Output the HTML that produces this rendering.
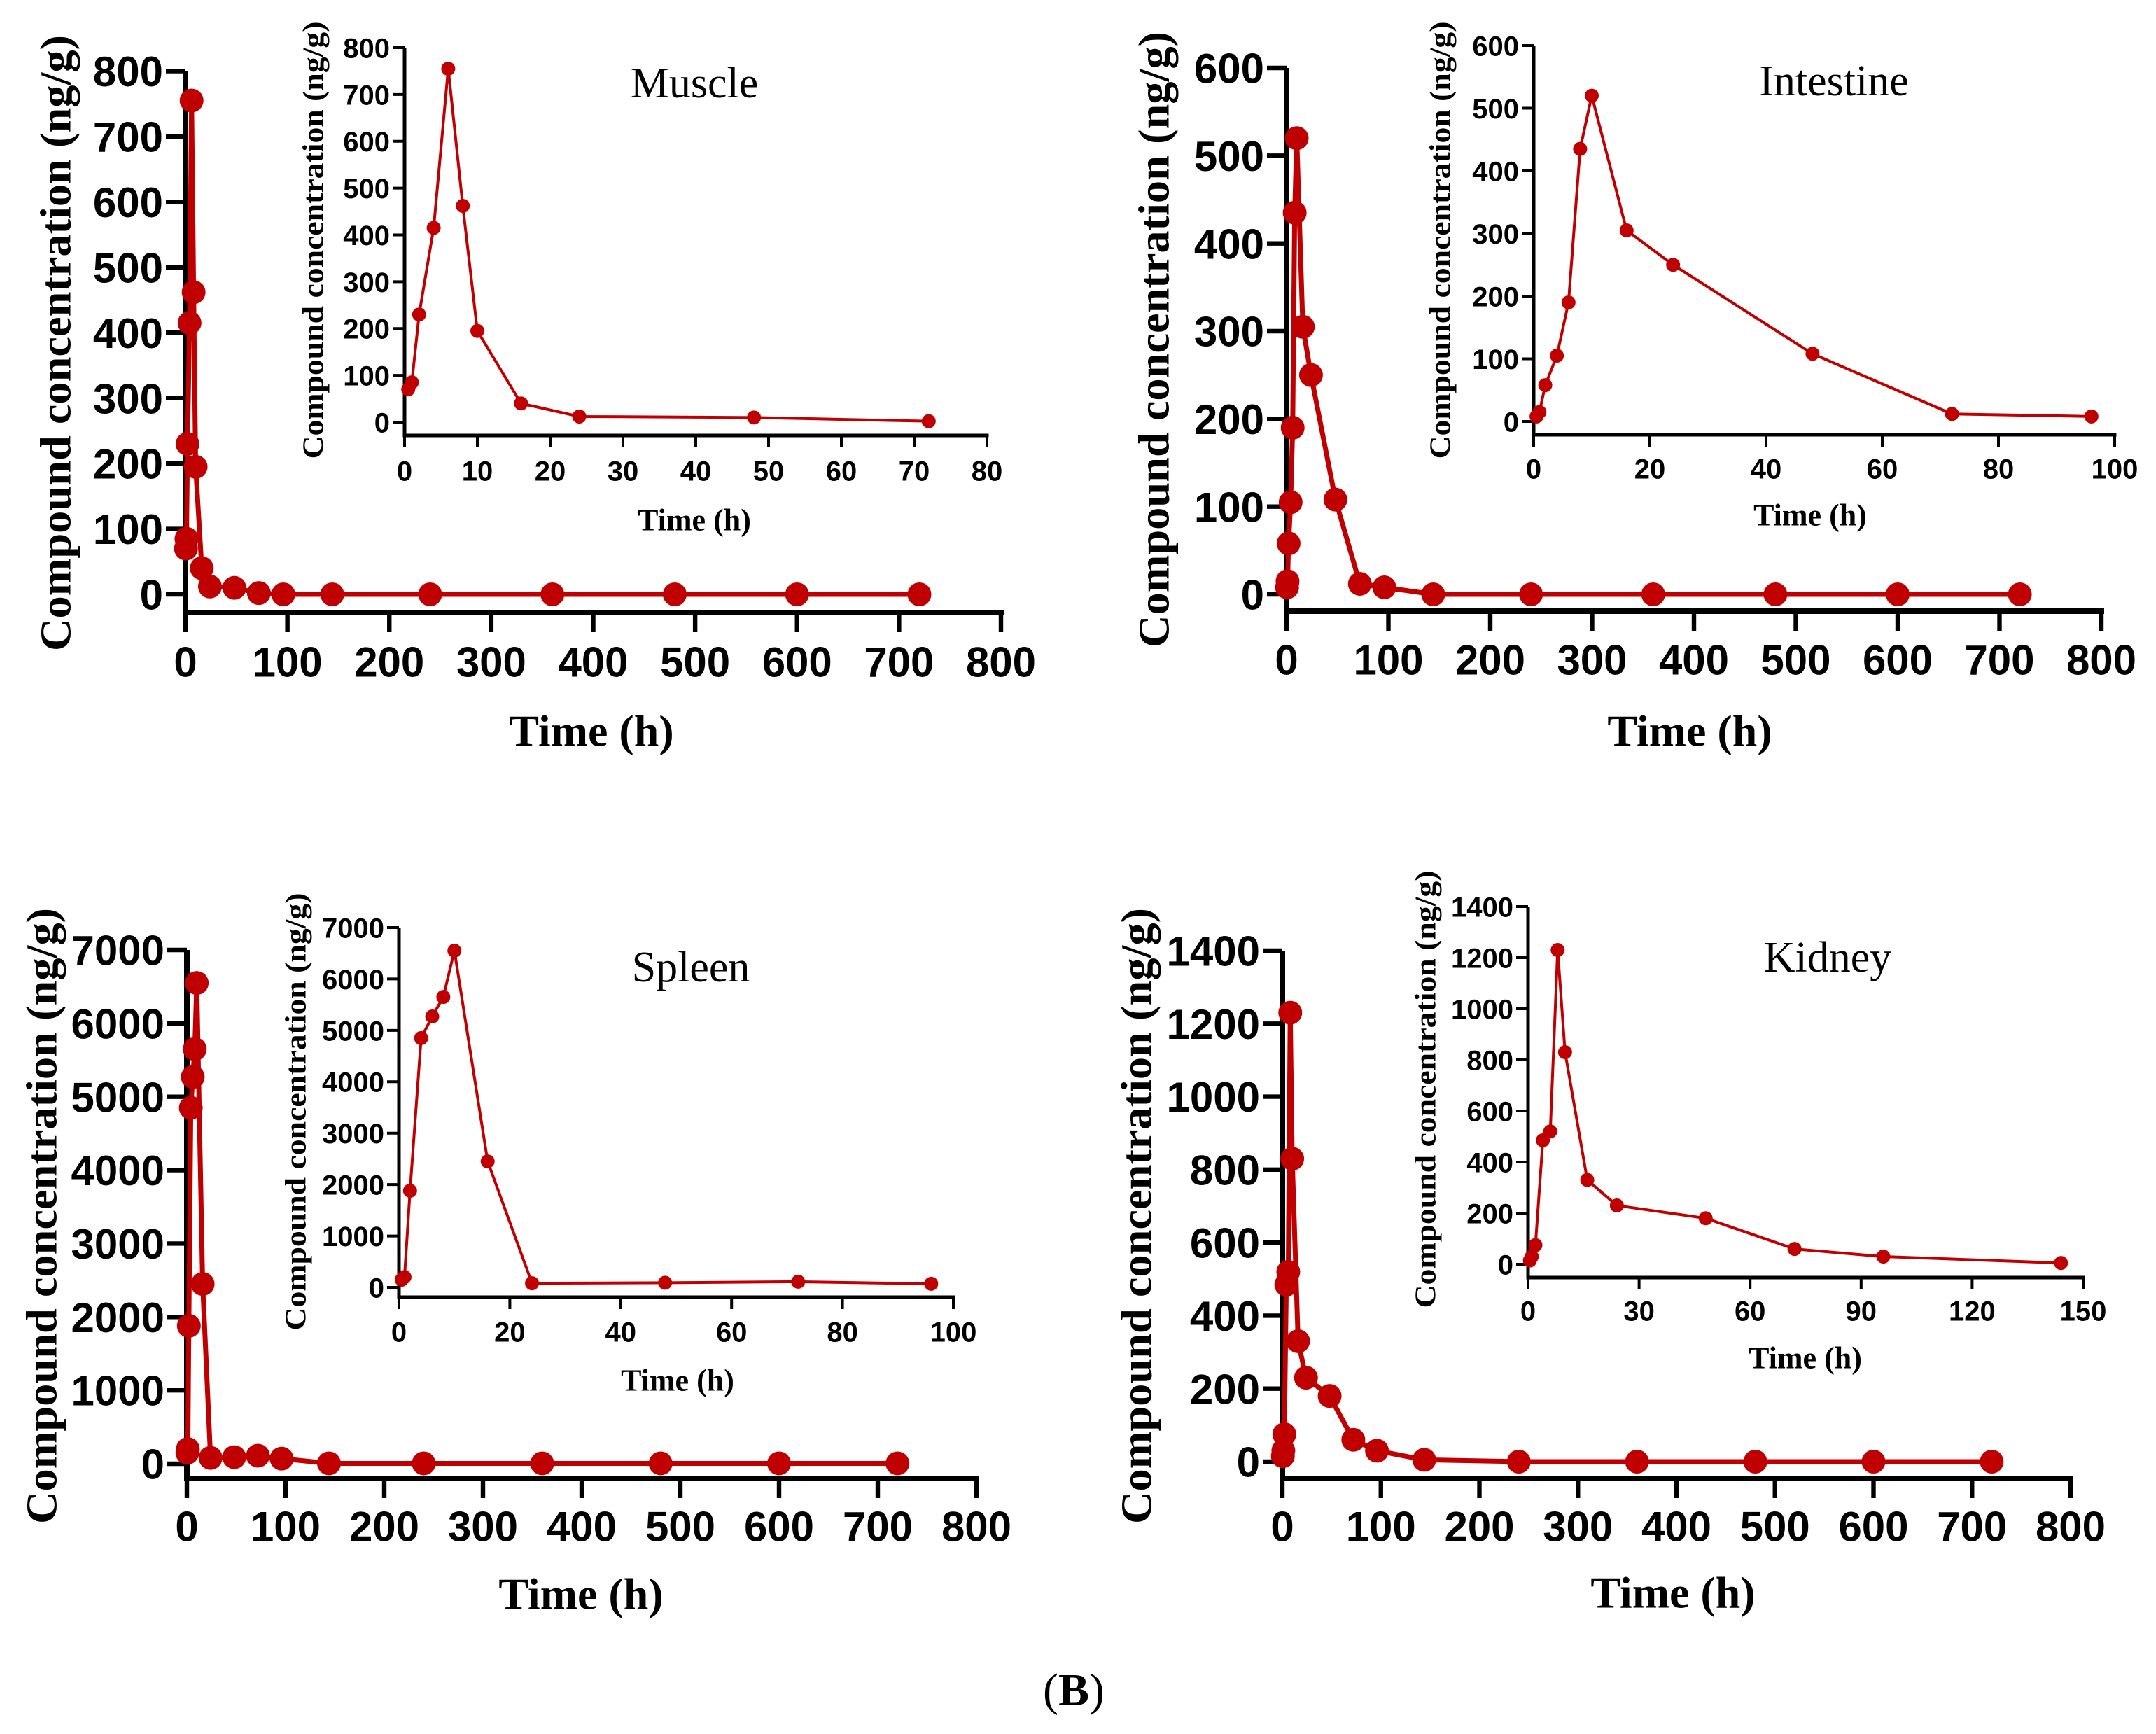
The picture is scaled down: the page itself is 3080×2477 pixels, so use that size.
<!DOCTYPE html>
<html><head><meta charset="utf-8"><style>
html,body{margin:0;padding:0;background:#fff;}
svg{display:block;}
.tk{font-family:"Liberation Sans",sans-serif;font-weight:bold;fill:#000;}
.sf{font-family:"Liberation Serif",serif;font-weight:bold;fill:#000;}
.sr{font-family:"Liberation Serif",serif;fill:#000;}
</style></head><body>
<svg id="fig" width="3080" height="2477" viewBox="0 0 3080 2477" xmlns="http://www.w3.org/2000/svg">
<text class="sf" x="1534" y="2436" font-size="66" text-anchor="middle"><tspan font-weight="normal">(</tspan>B<tspan font-weight="normal">)</tspan></text>
</svg>
<script>
const muscleTimes=[0.5,1,2,4,6,8,10,16,24,48,72];
const muscleValues=[70,85,230,415,755,462,195,40,12,10,2];
const muscleLateTimes=[96,144,240,360,480,600,720];
const muscleLateValues=[0,0,0,0,0,0,0];
const intestineTimes=[0.5,1,2,4,6,8,10,16,24,48,72,96];
const intestineValues=[8,15,58,105,190,435,520,305,250,108,12,8];
const intestineLateTimes=[144,240,360,480,600,720];
const intestineLateValues=[0,0,0,0,0,0];
const spleenTimes=[0.5,1,2,4,6,8,10,16,24,48,72,96];
const spleenValues=[150,200,1880,4850,5270,5650,6550,2450,80,90,110,70];
const spleenLateTimes=[144,240,360,480,600,720];
const spleenLateValues=[5,5,5,5,5,5];
const kidneyTimes=[0.5,1,2,4,6,8,10,16,24,48,72,96,144];
const kidneyValues=[15,30,75,485,520,1230,830,330,230,180,60,30,5];
const kidneyLateTimes=[240,360,480,600,720];
const kidneyLateValues=[0,0,0,0,0];
const mainXTicks=[0,100,200,300,400,500,600,700,800];
const muscleYTicks=[0,100,200,300,400,500,600,700,800];
const muscleInsetXTicks=[0,10,20,30,40,50,60,70,80];
const intestineYTicks=[0,100,200,300,400,500,600];
const intestineInsetXTicks=[0,20,40,60,80,100];
const spleenYTicks=[0,1000,2000,3000,4000,5000,6000,7000];
const spleenInsetXTicks=[0,20,40,60,80,100];
const kidneyYTicks=[0,200,400,600,800,1000,1200,1400];
const kidneyInsetXTicks=[0,30,60,90,120,150];

const NS="http://www.w3.org/2000/svg";
const svg=document.getElementById('fig');
const RED="#c00000";
function mk(tag,attrs,parent){const e=document.createElementNS(NS,tag);for(const k in attrs)e.setAttribute(k,attrs[k]);(parent||svg).appendChild(e);return e;}

function drawAxes(g,c){
  const sx=v=>c.x0+(v-c.xmin)/(c.xmax-c.xmin)*(c.x1-c.x0);
  const sy=v=>c.y0+(v-c.ymin)/(c.ymax-c.ymin)*(c.y1-c.y0);
  const yl=mk('line',{x1:c.x0,y1:sy(c.ymax),x2:c.x0,y2:c.bottom+c.aw/2,stroke:'#000','stroke-width':c.aw},g);
  
  
  const xl=mk('line',{x1:c.x0-c.aw/2,y1:c.bottom,x2:c.x1+c.aw/2,y2:c.bottom,stroke:'#000','stroke-width':c.aw},g);
  
  
  c.yticks.forEach(v=>{
    const y=sy(v);
    mk('line',{x1:c.x0-c.tl,y1:y,x2:c.x0,y2:y,stroke:'#000','stroke-width':c.aw*0.8},g);
    const t=mk('text',{x:c.x0-c.tl-4,y:y+c.fs*0.36,'text-anchor':'end','font-size':c.fs,class:'tk'},g);
    t.textContent=v;
    
    
  });
  c.xticks.forEach(v=>{
    const x=sx(v);
    mk('line',{x1:x,y1:c.bottom,x2:x,y2:c.bottom+c.tl,stroke:'#000','stroke-width':c.aw*0.8},g);
    const t=mk('text',{x:x,y:c.lab+c.fs*0.36,'text-anchor':'middle','font-size':c.fs,class:'tk'},g);
    t.textContent=v;
    
    
  });
  const xt=mk('text',{x:c.xtx,y:c.xty+c.tfs*0.35,'text-anchor':'middle','font-size':c.tfs,class:'sf'},g);
  xt.textContent='Time (h)';
  
  
  const yt=mk('text',{x:0,y:0,'text-anchor':'middle','font-size':c.yfs,class:'sf',textLength:c.ylen,lengthAdjust:'spacingAndGlyphs',transform:'translate('+(c.ytx+c.yfs*0.35)+','+c.yty+') rotate(-90)'},g);
  yt.textContent='Compound concentration (ng/g)';
  
  
  return {sx,sy};
}
function drawSeries(g,c,s,ts,vs,name){
  const pts=ts.map((t,i)=>s.sx(t)+','+s.sy(vs[i])).join(' ');
  const pl=mk('polyline',{points:pts,fill:'none',stroke:RED,'stroke-width':c.lw,'stroke-linejoin':'round'},g);
  
  
  ts.forEach((t,i)=>{
    const d=mk('circle',{cx:s.sx(t),cy:s.sy(vs[i]),r:c.r,fill:RED},g);
    
    
  });
}
function panel(p){
  const g=mk('g',{});
  
  
  const m=p.main;
  const sm=drawAxes(g,m);
  drawSeries(g,m,sm,p.t.concat(p.lt),p.v.concat(p.lv),p.name+'-main');
  const ins=p.inset;
  const si=drawAxes(g,ins);
  drawSeries(g,ins,si,p.t,p.v,p.name+'-inset');
  const lbl=mk('text',{x:p.lx,y:p.ly+20,'text-anchor':'middle','font-size':62,class:'sr'},g);
  lbl.textContent=p.title;
  
  
}
const MB={xmin:0,xmax:800,aw:8,tl:28,fs:60,tfs:64,yfs:62,ylen:880,lw:7,r:17,xticks:mainXTicks};
const IB={xmin:0,aw:5,tl:17,fs:40,tfs:44,yfs:42,ylen:625,lw:4,r:10};

panel({name:'muscle',title:'Muscle',lx:992,ly:119,t:muscleTimes,v:muscleValues,lt:muscleLateTimes,lv:muscleLateValues,
 main:Object.assign({},MB,{pre:'muscle-main',x0:265,x1:1430,ymin:0,ymax:800,y0:849,y1:101.5,bottom:875,lab:945,yticks:muscleYTicks,xtx:845,xty:1043,ytx:79,yty:490}),
 inset:Object.assign({},IB,{pre:'muscle-inset',x0:578,x1:1410,xmax:80,ymin:0,ymax:800,y0:603,y1:68,bottom:622,lab:672,yticks:muscleYTicks,xticks:muscleInsetXTicks,xtx:992,xty:742,ytx:447,yty:343})});
panel({name:'intestine',title:'Intestine',lx:2620,ly:116,t:intestineTimes,v:intestineValues,lt:intestineLateTimes,lv:intestineLateValues,
 main:Object.assign({},MB,{pre:'intestine-main',x0:1838,x1:3002,ymin:0,ymax:600,y0:849,y1:97,bottom:873,lab:942,yticks:intestineYTicks,xtx:2414,xty:1043,ytx:1648,yty:485}),
 inset:Object.assign({},IB,{pre:'intestine-inset',x0:2191,x1:3021,xmax:100,ymin:0,ymax:600,y0:602,y1:65,bottom:621,lab:669,yticks:intestineYTicks,xticks:intestineInsetXTicks,xtx:2586,xty:735,ytx:2057,yty:343})});
panel({name:'spleen',title:'Spleen',lx:987,ly:1382,t:spleenTimes,v:spleenValues,lt:spleenLateTimes,lv:spleenLateValues,
 main:Object.assign({},MB,{pre:'spleen-main',x0:267,x1:1395,ymin:0,ymax:7000,y0:2091,y1:1357,bottom:2112,lab:2180,yticks:spleenYTicks,xtx:830,xty:2276,ytx:59,yty:1737}),
 inset:Object.assign({},IB,{pre:'spleen-inset',x0:570,x1:1362,xmax:100,ymin:0,ymax:7000,y0:1839,y1:1325,bottom:1853,lab:1902,yticks:spleenYTicks,xticks:spleenInsetXTicks,xtx:968,xty:1971,ytx:422,yty:1588})});
panel({name:'kidney',title:'Kidney',lx:2611,ly:1368,t:kidneyTimes,v:kidneyValues,lt:kidneyLateTimes,lv:kidneyLateValues,
 main:Object.assign({},MB,{pre:'kidney-main',x0:1832,x1:2958,ymin:0,ymax:1400,y0:2088,y1:1358,bottom:2112,lab:2180,yticks:kidneyYTicks,xtx:2390,xty:2274,ytx:1623,yty:1737}),
 inset:Object.assign({},IB,{pre:'kidney-inset',x0:2183,x1:2976,xmax:150,ymin:0,ymax:1400,y0:1806,y1:1295,bottom:1825,lab:1872,yticks:kidneyYTicks,xticks:kidneyInsetXTicks,xtx:2579,xty:1939,ytx:2036,yty:1556})});
</script>
</body></html>
